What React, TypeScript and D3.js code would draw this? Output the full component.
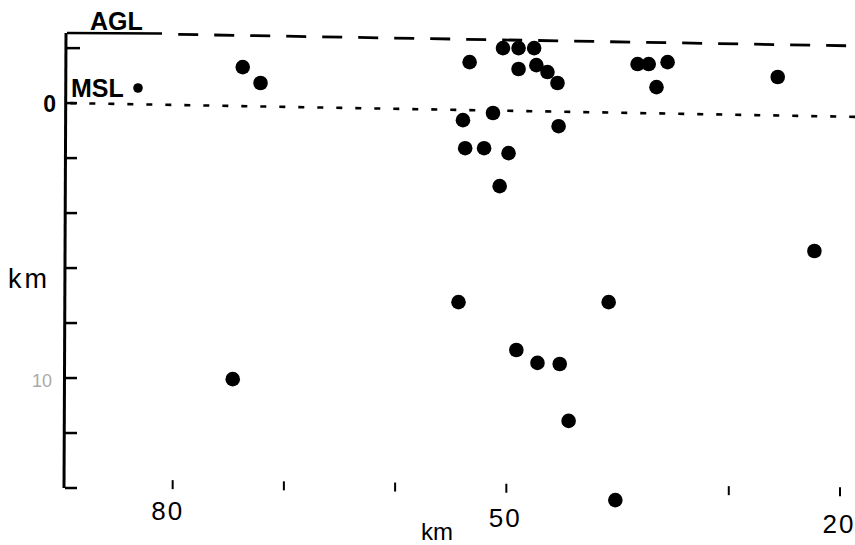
import React, { useEffect, useRef } from 'react';
import * as d3 from 'd3';

// epicentral distance (km) and depth (km, negative = above sea level)
const eventDistance = [
  73.7, 72.1, 53.3, 50.3, 48.9, 47.5, 48.9, 47.3, 46.3, 45.4,
  38.2, 37.2, 35.5, 36.5, 25.6, 51.2, 53.9, 45.3, 53.7, 52.0,
  49.8, 50.6, 22.3, 54.3, 40.8, 49.1, 47.2, 45.2, 74.6, 44.4, 40.2,
];
const eventDepth = [
  -1.31, -0.73, -1.49, -2.0, -2.0, -2.0, -1.24, -1.38, -1.13, -0.73,
  -1.42, -1.42, -1.49, -0.58, -0.95, 0.36, 0.62, 0.84, 1.64, 1.64,
  1.82, 3.02, 5.38, 7.24, 7.24, 8.98, 9.45, 9.49, 10.04, 11.56, 14.44,
];

const depthTicks = [-2, 0, 2, 4, 6, 8, 10, 12, 14];
const depthLabels = ['0', '10'];
const distTicks = [80, 70, 60, 50, 30, 20];
const distLabels = ['80', '50', '20'];

// reference levels, as traced off the (slightly tilted) scan
const aglLine: [number, number][] = [[79.5, -2.5], [18.6, -2.08]];
const mslLine: [number, number][] = [[89.2, 0], [18.6, 0.5]];

const FONT = "'Liberation Sans', Arial, sans-serif";

export default function App() {
  const ref = useRef<SVGSVGElement>(null);

  useEffect(() => {
    const totalWidth = 855;
    const totalHeight = 545;

    const svg = d3.select(ref.current)
      .attr('width', totalWidth)
      .attr('height', totalHeight);
    svg.selectAll('*').remove();

    const xScale = d3.scaleLinear().domain([89.5, 20]).range([67, 840]);
    const yScale = d3.scaleLinear().domain([-2.55, 14]).range([33, 488]);
    const tilt = (px: number) => (px - 67) * 0.018;

    const g = svg.append('g');

    // y axis
    g.append('line')
      .attr('x1', 66).attr('x2', 64)
      .attr('y1', yScale(-2.55)).attr('y2', yScale(14))
      .style('stroke', '#000').style('stroke-width', 3);

    g.selectAll('.ytick')
      .data(depthTicks)
      .enter().append('line')
      .attr('x1', 65)
      .attr('x2', d => (d === -2 ? 80 : 77))
      .attr('y1', d => yScale(d))
      .attr('y2', d => yScale(d))
      .style('stroke', '#000')
      .style('stroke-width', 2.5);

    g.selectAll('.ylab')
      .data(depthLabels)
      .enter().append('text')
      .attr('x', d => (d === '0' ? 56 : 52))
      .attr('y', d => yScale(+d) + 9)
      .attr('text-anchor', 'end')
      .text(d => d)
      .style('font-family', FONT)
      .style('font-size', d => (d === '0' ? '23px' : '18px'))
      .style('font-weight', d => (d === '0' ? 'bold' : 'normal'))
      .style('fill', d => (d === '0' ? '#000' : '#aaa'));

    g.append('text')
      .attr('x', 8)
      .attr('y', 288)
      .text('km')
      .style('font-family', FONT)
      .style('font-size', '27px')
      .style('letter-spacing', '3px')
      .style('fill', '#000');

    // x ticks and labels
    g.selectAll('.xtick')
      .data(distTicks)
      .enter().append('line')
      .attr('x1', d => xScale(d))
      .attr('x2', d => xScale(d))
      .attr('y1', d => 479 + tilt(xScale(d)) * 0.6)
      .attr('y2', d => 488 + tilt(xScale(d)) * 0.6)
      .style('stroke', '#000')
      .style('stroke-width', 2);

    g.selectAll('.xlab')
      .data(distLabels)
      .enter().append('text')
      .attr('x', d => xScale(+d) - (d === '80' ? 5 : 1))
      .attr('y', d => 518 + tilt(xScale(+d)) * 1.1)
      .attr('text-anchor', 'middle')
      .text(d => d)
      .style('font-family', FONT)
      .style('font-size', '26px')
      .style('letter-spacing', '2px')
      .style('fill', '#000');

    g.append('text')
      .attr('x', 421)
      .attr('y', 540)
      .text('km')
      .style('font-family', FONT)
      .style('font-size', '24px')
      .style('fill', '#000');

    // reference lines
    const line = d3.line<[number, number]>()
      .x(d => xScale(d[0]))
      .y(d => yScale(d[1]));

    g.append('line')
      .attr('x1', 67).attr('x2', 162)
      .attr('y1', yScale(-2.55)).attr('y2', yScale(-2.53))
      .style('stroke', '#000').style('stroke-width', 2.5);

    g.append('path')
      .attr('d', line(aglLine))
      .style('fill', 'none')
      .style('stroke', '#000')
      .style('stroke-width', 2.8)
      .style('stroke-dasharray', '20,16');

    g.append('path')
      .attr('d', line(mslLine))
      .style('fill', 'none')
      .style('stroke', '#000')
      .style('stroke-width', 2.6)
      .style('stroke-dasharray', '6,13');

    g.append('text')
      .attr('x', 90)
      .attr('y', 30)
      .text('AGL')
      .style('font-family', FONT)
      .style('font-size', '25px')
      .style('font-weight', 'bold')
      .style('fill', '#000');

    g.append('text')
      .attr('x', 71)
      .attr('y', 97)
      .text('MSL')
      .style('font-family', FONT)
      .style('font-size', '25px')
      .style('font-weight', 'bold')
      .style('fill', '#000');

    g.append('circle')
      .attr('cx', 138).attr('cy', 88).attr('r', 4.8)
      .style('fill', '#000');

    // events
    g.selectAll('.event')
      .data(eventDistance.map((d, i) => [d, eventDepth[i]]))
      .enter().append('circle')
      .attr('cx', d => xScale(d[0]))
      .attr('cy', d => yScale(d[1]))
      .attr('r', 7.3)
      .style('fill', '#000');
  }, []);

  return (
    <svg ref={ref} style={{ position: 'absolute', left: 0, top: 0, background: '#fff' }} />
  );
}
